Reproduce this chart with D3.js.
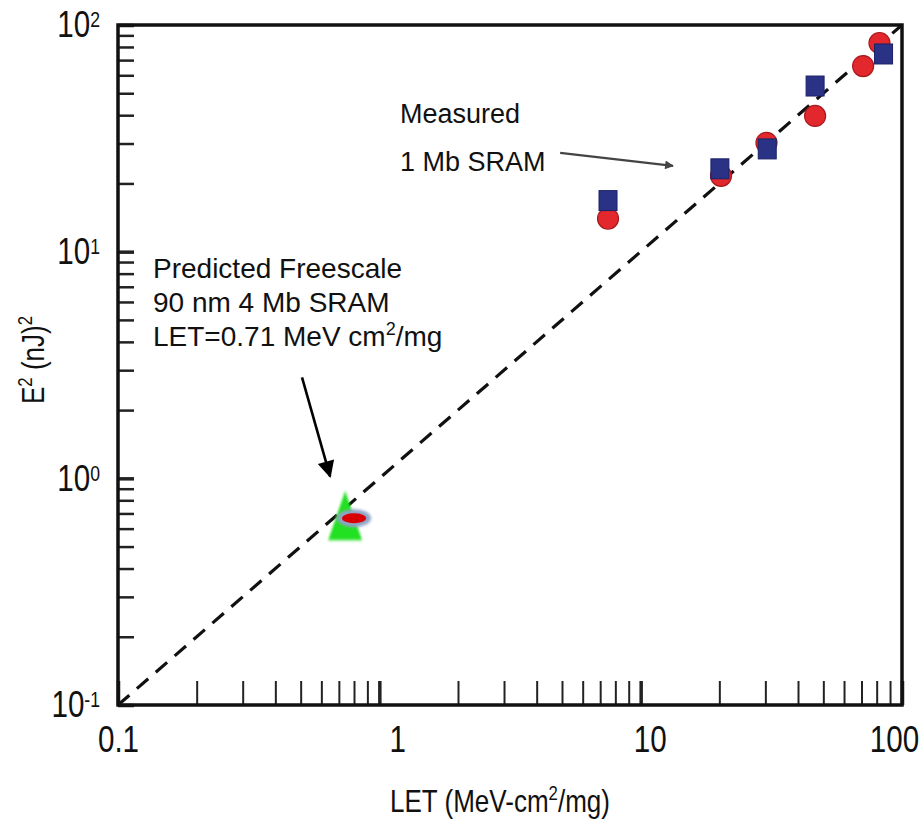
<!DOCTYPE html>
<html>
<head>
<meta charset="utf-8">
<script src="https://cdn.jsdelivr.net/npm/d3@7"></script>
<style>
  body { margin: 0; background: #fff; }
  svg text { font-family: "Liberation Sans", Arial, sans-serif; }
</style>
</head>
<body>
<div id="wrapper"></div>
<script>
// measured 1 Mb SRAM
const squareLET = [7.5, 20.1, 30.5, 46.5, 85];
const squareE2 = [16.8, 23.2, 28.4, 53.8, 74.5];
const circleLET = [7.5, 20.3, 30.3, 46.5, 71, 82];
const circleE2 = [14.0, 21.6, 30.2, 39.7, 65.9, 83.3];

// predicted Freescale 90 nm point
const predictedTriangle = { LET: 0.74, E2: 0.63 };
const predictedEllipse = { LET: 0.8, E2: 0.667 };

// y = x reference line
const refLine = [0.1, 100];

const xTickValues = [0.1, 1, 10, 100];
const xTickLabels = ["0.1", "1", "10", "100"];
const yTickValues = [0.1, 1, 10, 100];
const yTickExponents = ["-1", "0", "1", "2"];

(() => {
    const dimensions = getDimensions();
    const squeeze = 0.8; // no narrow font installed, so squash the axis text

    const xScale = d3.scaleLog()
        .domain([0.1, 100])
        .range([0, dimensions.boundedWidth])

    const yScale = d3.scaleLog()
        .domain([0.1, 100])
        .range([dimensions.boundedHeight, 0])

    const isMajor = d => Math.abs(Math.log10(d) - Math.round(Math.log10(d))) < 1e-9;
    const near = (a, b) => Math.abs(a - b) < 1e-9;

    const xAxisGenerator = d3.axisBottom()
        .scale(xScale)
        .tickValues(xScale.ticks())
        .tickSizeInner(-24)
        .tickSizeOuter(0)
        .tickPadding(21)
        .tickFormat(d => {
            const i = xTickValues.findIndex(v => near(v, d));
            return i >= 0 ? xTickLabels[i] : "";
        })

    const yAxisGenerator = d3.axisLeft()
        .scale(yScale)
        .tickValues(yScale.ticks())
        .tickSizeInner(-16)
        .tickSizeOuter(0)
        .tickPadding(18)
        .tickFormat(() => "")

    const wrapper = d3.select("#wrapper")
        .append("svg")
        .attr("width", dimensions.width)
        .attr("height", dimensions.height);

    const defs = wrapper.append("defs");
    defs.append("marker")
        .attr("id", "headBlack")
        .attr("viewBox", "0 0 10 10")
        .attr("refX", 9).attr("refY", 5)
        .attr("markerWidth", 8).attr("markerHeight", 6.5)
        .attr("markerUnits", "strokeWidth")
        .attr("orient", "auto")
        .append("path").attr("d", "M0,0 L10,5 L0,10 Z").attr("fill", "#000");
    defs.append("marker")
        .attr("id", "headGrey")
        .attr("viewBox", "0 0 10 10")
        .attr("refX", 9).attr("refY", 5)
        .attr("markerWidth", 7).attr("markerHeight", 4)
        .attr("markerUnits", "strokeWidth")
        .attr("orient", "auto")
        .append("path").attr("d", "M0,0 L10,5 L0,10 Z").attr("fill", "#444");
    defs.append("filter")
        .attr("id", "soft")
        .append("feGaussianBlur").attr("stdDeviation", 1.6);

    const bounds = wrapper.append("g")
        .style("transform", `translate(${dimensions.margin.left}px, ${dimensions.margin.top}px)`);

    function drawChart() {
        // axes
        const xAxis = bounds.append("g")
            .call(xAxisGenerator)
            .style("transform", `translateY(${dimensions.boundedHeight}px)`)
        xAxis.select(".domain").remove()
        xAxis.selectAll(".tick line")
            .attr("stroke", "#222")
            .attr("stroke-width", d => isMajor(d) ? 3.5 : 2)
        xAxis.selectAll(".tick text")
            .attr("fill", "#111")
            .style("font-size", "37px")
            .attr("x", d => (near(d, 1) ? 18 : near(d, 10) ? 9 : near(d, 100) ? -8 : 0) / squeeze)
            .attr("transform", `scale(${squeeze}, 1)`)

        const xAxisLabel = wrapper.append("g")
            .attr("transform", `translate(${dimensions.margin.left + 382}, ${dimensions.height - 12}) scale(0.84, 1)`)
            .append("text")
            .attr("fill", "#111")
            .style("font-size", "31px")
            .style("text-anchor", "middle")
        xAxisLabel.append("tspan").text("LET (MeV-cm")
        xAxisLabel.append("tspan").text("2").style("font-size", "20px").attr("dy", -12)
        xAxisLabel.append("tspan").text("/mg)").attr("dy", 12)

        const yAxis = bounds.append("g")
            .call(yAxisGenerator)
        yAxis.select(".domain").remove()
        yAxis.selectAll(".tick line")
            .attr("stroke", "#222")
            .attr("stroke-width", d => isMajor(d) ? 3.5 : 2.5)
        yAxis.selectAll(".tick text")
            .filter(d => isMajor(d))
            .each(function (d) {
                const i = yTickValues.findIndex(v => near(v, d));
                const t = d3.select(this)
                    .attr("fill", "#111")
                    .style("font-size", "37px")
                    .attr("x", -18 / squeeze)
                    .attr("transform", `scale(${squeeze}, 1)`)
                t.append("tspan").text("10")
                t.append("tspan").text(yTickExponents[i])
                    .style("font-size", "22px")
                    .attr("dy", "-0.45em")
            })

        const yAxisLabel = wrapper.append("g")
            .attr("transform", `translate(44, ${dimensions.margin.top + 335}) rotate(-90) scale(0.84, 1)`)
            .append("text")
            .attr("fill", "#111")
            .style("font-size", "31px")
            .style("text-anchor", "middle")
        yAxisLabel.append("tspan").text("E")
        yAxisLabel.append("tspan").text("2").style("font-size", "20px").attr("dy", -12)
        yAxisLabel.append("tspan").text(" (nJ)").attr("dy", 12)
        yAxisLabel.append("tspan").text("2").style("font-size", "20px").attr("dy", -12)

        // frame
        bounds.append("rect")
            .attr("width", dimensions.boundedWidth)
            .attr("height", dimensions.boundedHeight)
            .attr("fill", "none")
            .attr("stroke", "#111")
            .attr("stroke-width", 3.5)

        // y = x dashed line
        bounds.append("path")
            .datum(refLine)
            .attr("d", d3.line().x(d => xScale(d)).y(d => yScale(d)))
            .attr("fill", "none")
            .attr("stroke", "#111")
            .attr("stroke-width", 3.2)
            .attr("stroke-dasharray", "15 10")

        // predicted point
        bounds.append("path")
            .attr("d", d3.symbol(d3.symbolTriangle, 1390)())
            .attr("transform", `translate(${xScale(predictedTriangle.LET)}, ${yScale(predictedTriangle.E2)}) scale(0.6, 1)`)
            .attr("fill", "#22e022")
            .attr("filter", "url(#soft)")
        bounds.append("ellipse")
            .attr("cx", xScale(predictedEllipse.LET))
            .attr("cy", yScale(predictedEllipse.E2))
            .attr("rx", 17).attr("ry", 9)
            .attr("fill", "#8fa4c6")
            .attr("filter", "url(#soft)")
        bounds.append("ellipse")
            .attr("cx", xScale(predictedEllipse.LET))
            .attr("cy", yScale(predictedEllipse.E2))
            .attr("rx", 12).attr("ry", 5)
            .attr("fill", "#d80000")

        // measured points: circles then squares on top
        const circles = d3.zip(circleLET, circleE2);
        const squares = d3.zip(squareLET, squareE2);

        bounds.selectAll("circle.meas")
            .data(circles)
            .join("circle")
            .attr("class", "meas")
            .attr("cx", d => xScale(d[0]))
            .attr("cy", d => yScale(d[1]))
            .attr("r", 10.5)
            .attr("fill", "#e2282c")
            .attr("stroke", "#a8181c")
            .attr("stroke-width", 1.2)

        bounds.selectAll("rect.meas")
            .data(squares)
            .join("rect")
            .attr("class", "meas")
            .attr("x", d => xScale(d[0]) - 9)
            .attr("y", d => yScale(d[1]) - 10)
            .attr("width", 18)
            .attr("height", 20)
            .attr("fill", "#2a3286")
            .attr("stroke", "#1c2266")
            .attr("stroke-width", 1)

        // annotations
        bounds.append("line")
            .attr("x1", xScale(4.92)).attr("y1", yScale(27.3))
            .attr("x2", xScale(13.3)).attr("y2", yScale(23.9))
            .attr("stroke", "#444")
            .attr("stroke-width", 2.2)
            .attr("marker-end", "url(#headGrey)")

        bounds.append("line")
            .attr("x1", xScale(0.506)).attr("y1", yScale(2.79))
            .attr("x2", xScale(0.648)).attr("y2", yScale(1.02))
            .attr("stroke", "#000")
            .attr("stroke-width", 2.6)
            .attr("marker-end", "url(#headBlack)")

        const measuredNote = bounds.append("text")
            .attr("fill", "#111")
            .style("font-size", "27px")
        measuredNote.append("tspan").attr("x", 282).attr("y", 98).text("Measured")
        measuredNote.append("tspan").attr("x", 282).attr("y", 146).text("1 Mb SRAM")

        const predictedNote = bounds.append("text")
            .attr("fill", "#111")
            .style("font-size", "28px")
        predictedNote.append("tspan").attr("x", 35).attr("y", 253).text("Predicted Freescale")
        predictedNote.append("tspan").attr("x", 35).attr("y", 287).text("90 nm 4 Mb SRAM")
        predictedNote.append("tspan").attr("x", 35).attr("y", 321).text("LET=0.71 MeV cm")
        predictedNote.append("tspan").text("2").style("font-size", "18px").attr("dy", -11)
        predictedNote.append("tspan").text("/mg").attr("dy", 11)
    }

    function getDimensions() {
        let dimensions = {
            width: 922,
            height: 824,
            margin: {
                top: 25,
                right: 20,
                bottom: 119,
                left: 118,
            },
        }
        dimensions.boundedWidth = dimensions.width - dimensions.margin.left - dimensions.margin.right
        dimensions.boundedHeight = dimensions.height - dimensions.margin.top - dimensions.margin.bottom;
        return dimensions;
    }

    drawChart();
})();
</script>
</body>
</html>
